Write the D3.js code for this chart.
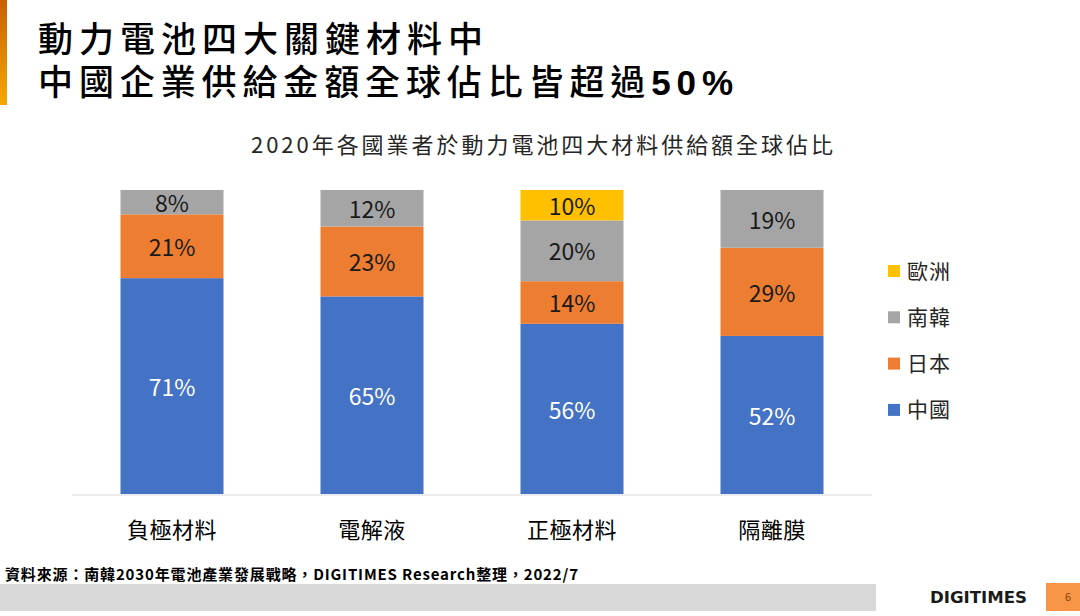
<!DOCTYPE html>
<html>
<head>
<meta charset="utf-8">
<script src="https://cdn.jsdelivr.net/npm/d3@7"></script>
<style>
  body { margin: 0; background: #fff; }
  svg { display: block; font-family: "Noto Sans CJK TC", "Noto Sans", sans-serif; }
</style>
</head>
<body>
<div class="canvas"></div>
<script>
// chart data
const categories = ['負極材料', '電解液', '正極材料', '隔離膜'];
const seriesNames = ['中國', '日本', '南韓', '歐洲'];
const china  = [71, 65, 56, 52];
const japan  = [21, 23, 14, 29];
const korea  = [8, 12, 20, 19];
const europe = [0, 0, 10, 0];
const colors = ['#4472C4', '#ED7D31', '#A5A5A5', '#FFC000'];

const W = 1080, H = 616;

const svg = d3.select('.canvas')
  .append('svg')
  .attr('width', W)
  .attr('height', H);

// orange accent bar on the left
const grad = svg.append('defs').append('linearGradient')
  .attr('id', 'accent')
  .attr('x1', 0).attr('y1', 0).attr('x2', 0).attr('y2', 1);
grad.append('stop').attr('offset', '0%').attr('stop-color', '#C85F00');
grad.append('stop').attr('offset', '100%').attr('stop-color', '#F7A800');
svg.append('rect')
  .attr('x', 0).attr('y', 0)
  .attr('width', 7).attr('height', 105)
  .attr('fill', 'url(#accent)');

// title, two lines
const titleFont = '"Liberation Sans", "Noto Sans CJK TC", sans-serif';
svg.append('text')
  .attr('x', 38).attr('y', 52)
  .attr('font-family', titleFont)
  .attr('font-size', 35).attr('font-weight', 500)
  .attr('textLength', 445).attr('lengthAdjust', 'spacing')
  .attr('fill', '#000')
  .text('動力電池四大關鍵材料中');
const title2 = svg.append('text')
  .attr('x', 38).attr('y', 95)
  .attr('font-family', titleFont)
  .attr('font-size', 35).attr('font-weight', 500)
  .attr('textLength', 695).attr('lengthAdjust', 'spacing')
  .attr('fill', '#000');
title2.append('tspan').text('中國企業供給金額全球佔比皆超過');
title2.append('tspan').attr('font-weight', 700).text('50%');

// subtitle
svg.append('text')
  .attr('x', 251).attr('y', 153)
  .attr('font-size', 22)
  .attr('textLength', 582).attr('lengthAdjust', 'spacing')
  .attr('fill', '#262626')
  .text('2020年各國業者於動力電池四大材料供給額全球佔比');

// scales
const x = d3.scaleBand()
  .domain(categories)
  .range([72, 872])
  .paddingInner(0.485)
  .paddingOuter(0.2425);

const y = d3.scaleLinear()
  .domain([0, 100])
  .range([494, 190]);

const rows = categories.map((c, i) => ({
  cat: c, '中國': china[i], '日本': japan[i], '南韓': korea[i], '歐洲': europe[i]
}));
const stacked = d3.stack().keys(seriesNames)(rows);

const layers = svg.append('g').selectAll('g')
  .data(stacked)
  .join('g')
  .attr('fill', (d, i) => colors[i]);

layers.selectAll('rect')
  .data(d => d.filter(s => s[1] - s[0] > 0))
  .join('rect')
  .attr('x', d => x(d.data.cat))
  .attr('y', d => y(d[1]))
  .attr('width', x.bandwidth())
  .attr('height', d => y(d[0]) - y(d[1]));

// value labels
stacked.forEach((layer, li) => {
  svg.append('g').selectAll('text')
    .data(layer.filter(s => s[1] - s[0] > 0))
    .join('text')
    .attr('x', d => x(d.data.cat) + x.bandwidth() / 2)
    .attr('y', d => (y(d[0]) + y(d[1])) / 2)
    .attr('dy', '0.42em')
    .attr('text-anchor', 'middle')
    .attr('font-size', 23)
    .attr('fill', li === 0 ? '#fff' : '#1a1a1a')
    .text(d => (d[1] - d[0]) + '%');
});

// x axis
const xAxis = svg.append('g')
  .attr('transform', 'translate(0,495)')
  .call(d3.axisBottom(x).tickSize(0).tickPadding(27));
xAxis.select('.domain').attr('stroke', '#D9D9D9').attr('d', 'M72,0H872');
xAxis.selectAll('text')
  .attr('font-size', 22)
  .attr('letter-spacing', 0.5)
  .attr('font-family', '"Noto Sans CJK TC", sans-serif')
  .attr('fill', '#000');

// legend (top to bottom: 歐洲, 南韓, 日本, 中國)
const legendItems = seriesNames.map((n, i) => ({ name: n, color: colors[i] })).reverse();
const legend = svg.append('g')
  .selectAll('g')
  .data(legendItems)
  .join('g')
  .attr('transform', (d, i) => `translate(888,${271 + i * 46.3})`);
legend.append('rect')
  .attr('x', 0).attr('y', -6)
  .attr('width', 12).attr('height', 12)
  .attr('fill', d => d.color);
legend.append('text')
  .attr('x', 19).attr('dy', '0.36em')
  .attr('font-size', 21)
  .attr('letter-spacing', 1)
  .attr('fill', '#262626')
  .text(d => d.name);

// footer
svg.append('text')
  .attr('x', 5).attr('y', 580)
  .attr('font-size', 15).attr('font-weight', 700)
  .attr('textLength', 573).attr('lengthAdjust', 'spacing')
  .attr('fill', '#000')
  .text('資料來源：南韓2030年電池產業發展戰略，DIGITIMES Research整理，2022/7');
svg.append('rect')
  .attr('x', 0).attr('y', 584)
  .attr('width', 876).attr('height', 27)
  .attr('fill', '#D9D9D9');
svg.append('text')
  .attr('x', 930).attr('y', 603)
  .attr('font-family', '"DejaVu Sans", sans-serif')
  .attr('font-size', 16).attr('font-weight', 700)
  .attr('textLength', 97).attr('lengthAdjust', 'spacingAndGlyphs')
  .attr('fill', '#1a1a1a')
  .text('DIGITIMES');
svg.append('rect')
  .attr('x', 1046).attr('y', 583)
  .attr('width', 34).attr('height', 28)
  .attr('fill', '#F79646');
svg.append('text')
  .attr('x', 1068).attr('y', 601)
  .attr('text-anchor', 'middle')
  .attr('font-size', 11)
  .attr('fill', '#7f3f00')
  .text('6');
</script>
</body>
</html>
